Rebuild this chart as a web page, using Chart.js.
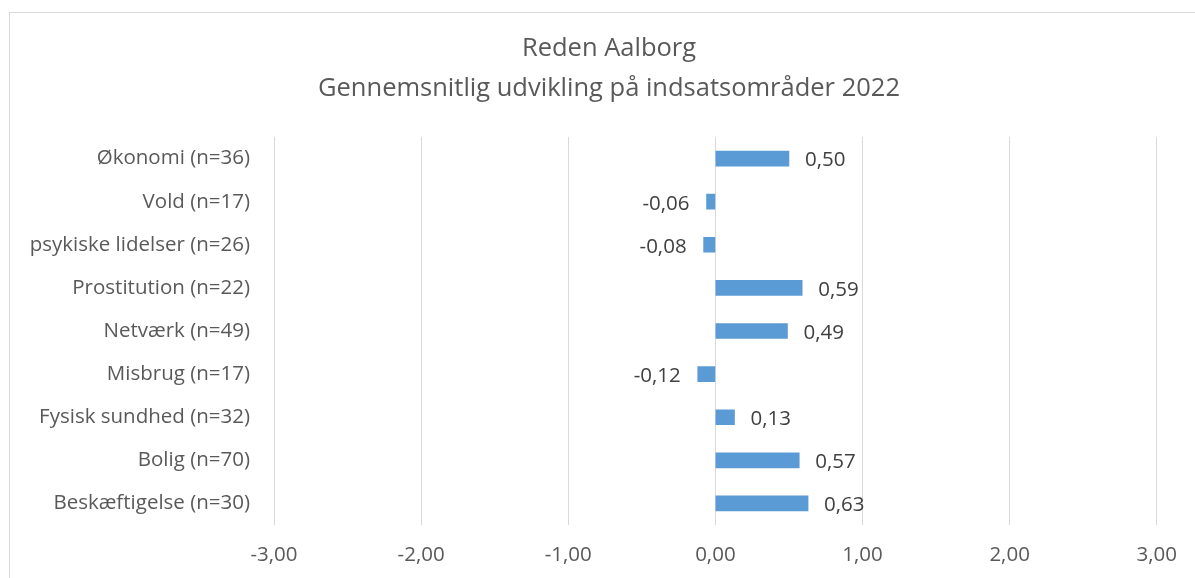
<!DOCTYPE html>
<html>
<head>
<meta charset="utf-8">
<script src="https://cdn.jsdelivr.net/npm/chart.js@4.4.1/dist/chart.umd.min.js"></script>
<style>
  html, body { margin: 0; padding: 0; background: #ffffff; }
  #wrap { position: relative; width: 1195px; height: 578px; }
</style>
</head>
<body>
<div id="wrap"><canvas id="c" width="1195" height="578"></canvas></div>
<script>
const titleLines = ["Reden Aalborg", "Gennemsnitlig udvikling på indsatsområder 2022"];
const categories = [
  "Økonomi (n=36)",
  "Vold (n=17)",
  "psykiske lidelser (n=26)",
  "Prostitution (n=22)",
  "Netværk (n=49)",
  "Misbrug (n=17)",
  "Fysisk sundhed (n=32)",
  "Bolig (n=70)",
  "Beskæftigelse (n=30)"
];
const values = [0.50, -0.06, -0.08, 0.59, 0.49, -0.12, 0.13, 0.57, 0.63];
const xTicks = [-3, -2, -1, 0, 1, 2, 3];

const FONT = "'Open Sans', 'Liberation Sans', sans-serif";
const fmt = v => v.toFixed(2).replace('.', ',');

const borderPlugin = {
  id: 'outerBorder',
  beforeDraw(chart) {
    const ctx = chart.ctx;
    ctx.save();
    ctx.strokeStyle = '#d9d9d9';
    ctx.lineWidth = 1;
    ctx.strokeRect(9.5, 12.5, 1400, 1000);
    ctx.restore();
  }
};

const titlePlugin = {
  id: 'chartTitle',
  afterDraw(chart) {
    const ctx = chart.ctx;
    ctx.save();
    ctx.font = "25.5px " + FONT;
    ctx.fillStyle = '#595959';
    ctx.textAlign = 'center';
    ctx.textBaseline = 'middle';
    titleLines.forEach((t, i) => ctx.fillText(t, 609, 49 + i * 40));
    ctx.restore();
  }
};

const labelPlugin = {
  id: 'valueLabels',
  afterDatasetsDraw(chart) {
    const ctx = chart.ctx;
    const meta = chart.getDatasetMeta(0);
    ctx.save();
    ctx.font = "20.5px " + FONT;
    ctx.fillStyle = '#404040';
    ctx.textBaseline = 'middle';
    meta.data.forEach((bar, i) => {
      const v = values[i];
      if (v >= 0) {
        ctx.textAlign = 'left';
        ctx.fillText(fmt(v), bar.x + 16, bar.y + 2);
      } else {
        ctx.textAlign = 'right';
        ctx.fillText(fmt(v), bar.x - 17, bar.y + 2);
      }
    });
    ctx.restore();
  }
};

const PAD_L = 20;

new Chart(document.getElementById('c'), {
  type: 'bar',
  data: {
    labels: categories,
    datasets: [{
      data: values,
      backgroundColor: '#5b9bd5',
      borderWidth: 0,
      barThickness: 15
    }]
  },
  options: {
    indexAxis: 'y',
    responsive: false,
    animation: false,
    devicePixelRatio: 1,
    layout: { padding: { left: PAD_L, right: 37, top: 137, bottom: 0 } },
    plugins: {
      legend: { display: false },
      tooltip: { enabled: false },
      title: { display: false }
    },
    scales: {
      x: {
        min: -3,
        max: 3,
        afterBuildTicks(scale) { scale.ticks = xTicks.map(v => ({ value: v })); },
        afterFit(scale) { scale.height = 53; },
        grid: { color: '#d9d9d9', lineWidth: 1, drawTicks: false },
        border: { display: false },
        ticks: {
          color: '#595959',
          font: { family: FONT, size: 20.5 },
          padding: 18,
          maxRotation: 0,
          callback: v => fmt(v)
        }
      },
      y: {
        afterFit(scale) { scale.width = 274 - PAD_L; },
        grid: { display: false, drawTicks: false },
        border: { display: false },
        ticks: {
          color: '#595959',
          font: { family: FONT, size: 20.5 },
          padding: 24
        }
      }
    }
  },
  plugins: [borderPlugin, labelPlugin, titlePlugin]
});
</script>
</body>
</html>
